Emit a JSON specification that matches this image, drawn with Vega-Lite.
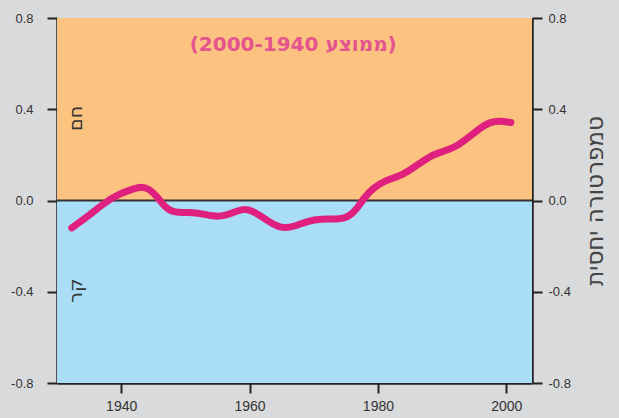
{
  "$schema": "https://vega.github.io/schema/vega-lite/v6.json",
  "width": 475,
  "height": 365,
  "autosize": "none",
  "padding": {"left": 57, "top": 18, "right": 87, "bottom": 35},
  "background": "#d9dadb",
  "config": {
    "view": {"stroke": null},
    "axis": {
      "grid": false,
      "domainColor": "#222222",
      "domainWidth": 2.5,
      "tickColor": "#222222",
      "tickWidth": 2,
      "tickSize": 10,
      "labelColor": "#333333",
      "labelFont": "Liberation Sans",
      "labelFontSize": 13,
      "titleFont": "DejaVu Sans",
      "titleColor": "#444444",
      "titleFontWeight": "normal"
    }
  },
  "datasets": {
    "zones": [
      {"zone": "hot", "low": 0, "high": 0.8},
      {"zone": "cold", "low": -0.8, "high": 0}
    ],
    "temps": [
      {"year": 1932.3, "value": -0.12},
      {"year": 1935.0, "value": -0.066},
      {"year": 1937.3, "value": -0.012},
      {"year": 1939.6, "value": 0.028},
      {"year": 1942.0, "value": 0.052},
      {"year": 1943.2, "value": 0.062},
      {"year": 1944.4, "value": 0.05},
      {"year": 1945.6, "value": 0.018},
      {"year": 1946.8, "value": -0.03},
      {"year": 1948.3, "value": -0.055},
      {"year": 1950.5, "value": -0.05},
      {"year": 1952.8, "value": -0.058},
      {"year": 1955.0, "value": -0.075},
      {"year": 1957.4, "value": -0.055},
      {"year": 1959.0, "value": -0.035},
      {"year": 1960.6, "value": -0.045},
      {"year": 1962.7, "value": -0.088},
      {"year": 1965.0, "value": -0.125},
      {"year": 1967.0, "value": -0.114},
      {"year": 1969.0, "value": -0.09},
      {"year": 1971.2, "value": -0.08},
      {"year": 1973.6, "value": -0.083},
      {"year": 1975.5, "value": -0.072},
      {"year": 1976.7, "value": -0.038},
      {"year": 1977.9, "value": 0.015},
      {"year": 1979.4, "value": 0.058},
      {"year": 1981.2, "value": 0.088},
      {"year": 1983.2, "value": 0.105},
      {"year": 1984.8, "value": 0.13},
      {"year": 1986.4, "value": 0.16},
      {"year": 1988.2, "value": 0.197},
      {"year": 1990.2, "value": 0.215},
      {"year": 1992.3, "value": 0.237},
      {"year": 1994.1, "value": 0.276},
      {"year": 1996.0, "value": 0.32},
      {"year": 1997.4, "value": 0.343},
      {"year": 1998.9, "value": 0.35},
      {"year": 2000.7, "value": 0.342}
    ],
    "labels": [
      {"year": 1932.9, "value": 0.36, "text": "חם"},
      {"year": 1932.9, "value": -0.395, "text": "קר"}
    ],
    "note": [
      {"year": 1966.8, "value": 0.68, "text": "(2000-1940 ממוצע)"}
    ]
  },
  "resolve": {"axis": {"y": "independent"}},
  "layer": [
    {
      "data": {"name": "zones"},
      "mark": {"type": "rect"},
      "encoding": {
        "y": {
          "field": "low",
          "type": "quantitative",
          "scale": {"domain": [-0.8, 0.8], "nice": false, "zero": false},
          "axis": {
            "orient": "left",
            "title": null,
            "values": [-0.8, -0.4, 0, 0.4, 0.8],
            "labelExpr": "datum.value < 0 ? '-' + format(-datum.value, '.1f') : format(datum.value, '.1f')",
            "labelPadding": 14
          }
        },
        "y2": {"field": "high"},
        "color": {
          "field": "zone",
          "type": "nominal",
          "scale": {"domain": ["hot", "cold"], "range": ["#fcc27f", "#a9def6"]},
          "legend": null
        }
      }
    },
    {
      "data": {"values": [{"v": 0}]},
      "mark": {"type": "rule", "color": "#333333", "strokeWidth": 2},
      "encoding": {
        "y": {"field": "v", "type": "quantitative", "axis": null}
      }
    },
    {
      "data": {"name": "temps"},
      "mark": {"type": "line", "color": "#e0207e", "strokeWidth": 7, "interpolate": "basis", "strokeCap": "round", "strokeJoin": "round"},
      "encoding": {
        "x": {
          "field": "year",
          "type": "quantitative",
          "scale": {"domain": [1930, 2004], "nice": false, "zero": false},
          "axis": {
            "title": null,
            "values": [1940, 1960, 1980, 2000],
            "format": "d",
            "labelPadding": 6,
            "labelFontSize": 14
          }
        },
        "y": {
          "field": "value",
          "type": "quantitative",
          "axis": {
            "orient": "right",
            "title": "טמפרטורה יחסית",
            "titleAngle": 270,
            "titleFontSize": 23,
            "titlePadding": 37,
            "values": [-0.8, -0.4, 0, 0.4, 0.8],
            "labelExpr": "datum.value < 0 ? '-' + format(-datum.value, '.1f') : format(datum.value, '.1f')",
            "labelPadding": 6
          }
        }
      }
    },
    {
      "data": {"name": "labels"},
      "mark": {"type": "text", "angle": 270, "font": "DejaVu Sans", "fontSize": 19, "color": "#333333", "align": "center", "baseline": "middle"},
      "encoding": {
        "x": {"field": "year", "type": "quantitative"},
        "y": {"field": "value", "type": "quantitative", "axis": null},
        "text": {"field": "text"}
      }
    },
    {
      "data": {"name": "note"},
      "mark": {"type": "text", "font": "DejaVu Sans", "fontSize": 20, "fontWeight": "bold", "color": "#e4558f", "align": "center", "baseline": "middle"},
      "encoding": {
        "x": {"field": "year", "type": "quantitative"},
        "y": {"field": "value", "type": "quantitative", "axis": null},
        "text": {"field": "text"}
      }
    }
  ]
}
